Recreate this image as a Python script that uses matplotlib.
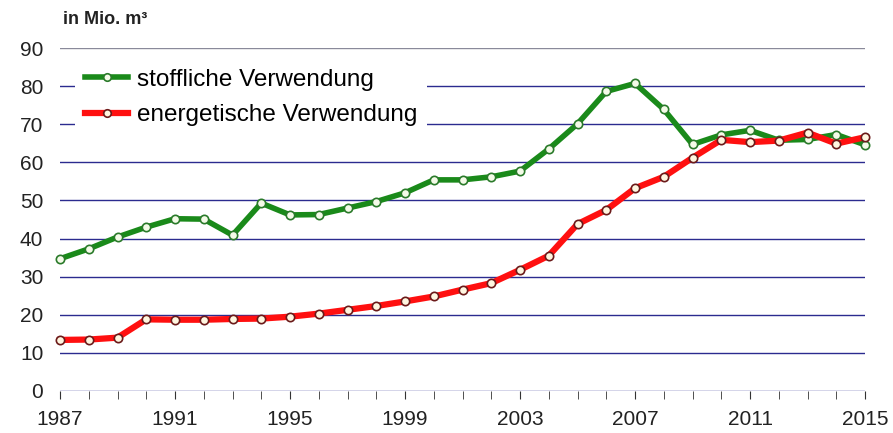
import matplotlib
matplotlib.use("Agg")
import matplotlib.pyplot as plt
from matplotlib.ticker import MultipleLocator

years = list(range(1987, 2016))
stofflich = [34.7, 37.3, 40.4, 43.0, 45.2, 45.1, 40.9, 49.3, 46.2, 46.3, 48.0, 49.7,
             52.0, 55.4, 55.4, 56.2, 57.7, 63.5, 70.1, 78.6, 80.7, 73.9, 64.7, 67.2,
             68.4, 65.8, 66.0, 67.3, 64.6]
energetisch = [13.4, 13.5, 14.0, 18.8, 18.7, 18.7, 18.9, 19.0, 19.5, 20.3, 21.3, 22.3,
               23.5, 24.8, 26.6, 28.3, 31.8, 35.5, 43.8, 47.5, 53.2, 56.2, 61.2, 65.9,
               65.3, 65.7, 67.8, 64.9, 66.6]
labels = ["stoffliche Verwendung", "energetische Verwendung"]
xticks = [1987, 1991, 1995, 1999, 2003, 2007, 2011, 2015]
yticks = list(range(0, 100, 10))

plt.rcParams['font.family'] = ['Liberation Sans', 'DejaVu Sans']

fig = plt.figure(figsize=(8.93, 4.33), dpi=100)
ax = fig.add_axes([60/893, 1-391/433, 805/893, (391-48)/433])

for y in yticks:
    ax.axhline(y, color="#2b2b8f" if y < 90 else "#8a8a9a", lw=1.0, zorder=1)

ax.plot(years, stofflich, color="#1a8a1a", lw=4, marker="o", ms=6,
        mfc="#f4fbe8", mec="#2a7a2a", mew=1.2, label=labels[0], zorder=2, clip_on=False)
ax.plot(years, energetisch, color="#ff1010", lw=4.5, marker="o", ms=6,
        mfc="#fff6e0", mec="#6a1a1a", mew=1.2, label=labels[1], zorder=3, clip_on=False)

ax.set_xlim(1987, 2015)
ax.set_ylim(0, 90)
ax.set_xticks(xticks)
ax.xaxis.set_minor_locator(MultipleLocator(1))
ax.set_yticks(yticks)
for s in ax.spines.values():
    s.set_visible(False)
ax.tick_params(axis="y", length=0, labelsize=15, pad=12, colors="#222222")
ax.tick_params(axis="x", which="both", direction="out", length=6, color="#333333",
               labelsize=15, pad=8, labelcolor="#222222")

leg = ax.legend(loc="upper left", bbox_to_anchor=(15/805, 1-11/343), frameon=True,
                fancybox=False, edgecolor="none", facecolor="white", framealpha=1,
                fontsize=17.5, handlelength=1.8, handletextpad=0.35, labelspacing=0.55,
                borderpad=0.4, borderaxespad=0, markerscale=0.9)

fig.text(63/893, 1-20/433, "in Mio. m³", fontsize=13, fontweight="bold",
         ha="left", va="center", color="#222222")

fig.savefig("out.png", dpi=100, facecolor="white")
